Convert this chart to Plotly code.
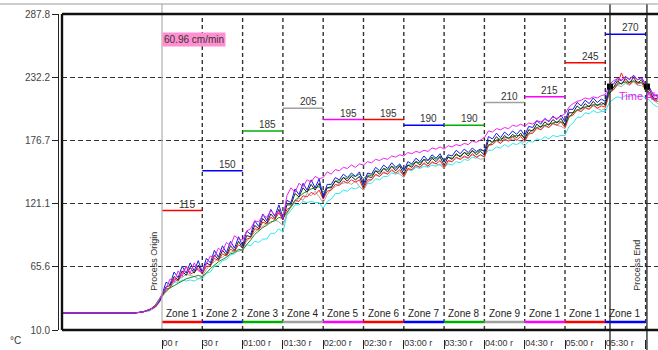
import plotly.graph_objects as go

# ---- data -------------------------------------------------------------
# sample clock in minutes from process origin
sample_min = [-74, -55, -35, -20, -14, -9, -5, -2] + list(range(0, 370, 3))

probe_magenta = [25, 25, 25, 25, 26, 28, 31, 36,
    42, 46, 55, 52, 62, 57, 66, 60, 69, 62,
    61, 68, 75, 74, 82, 79, 87, 84, 93, 90,
    89, 97, 99, 106, 105, 111, 109, 115, 111, 114,
    108, 128, 135, 131, 139, 136, 142, 140, 145, 143,
    144, 149, 147, 151, 150, 153, 152, 155, 153, 156,
    155, 158, 157, 160, 159, 161, 160, 163, 162, 164,
    163, 166, 165, 167, 166, 168, 167, 170, 169, 171,
    169, 172, 171, 173, 172, 174, 173, 176, 175, 177,
    179, 185, 184, 187, 186, 188, 187, 190, 189, 191,
    189, 192, 191, 194, 193, 195, 194, 197, 196, 198,
    200, 206, 209, 211, 212, 214, 213, 215, 214, 216,
    217, 226, 229, 231, 230, 232, 231, 233, 230, 231,
    226, 221, 217, 215]

probe_blue = [25, 25, 25, 25, 26, 28, 31, 35,
    41, 52, 50, 61, 56, 66, 60, 69, 62, 71,
    61, 73, 69, 80, 74, 84, 78, 88, 82, 92,
    84, 97, 94, 106, 101, 112, 106, 116, 110, 120,
    109, 124, 122, 134, 129, 139, 133, 142, 135, 143,
    127, 138, 138, 144, 142, 147, 144, 148, 145, 149,
    138, 148, 147, 153, 150, 155, 152, 157, 153, 156,
    150, 158, 156, 161, 158, 163, 159, 164, 161, 165,
    158, 164, 163, 168, 165, 169, 166, 170, 167, 169,
    167, 180, 178, 183, 179, 184, 181, 185, 182, 186,
    181, 189, 188, 194, 191, 196, 193, 198, 195, 199,
    193, 204, 204, 210, 207, 212, 209, 214, 210, 213,
    211, 224, 226, 231, 229, 233, 230, 234, 230, 232,
    226, 223, 216, 216]

probe_black = [25, 25, 25, 25, 26, 28, 31, 35,
    40, 48, 49, 57, 54, 62, 58, 65, 60, 67,
    60, 69, 67, 76, 72, 80, 76, 84, 80, 88,
    82, 93, 92, 102, 99, 108, 104, 112, 108, 116,
    107, 120, 120, 130, 127, 135, 131, 138, 133, 139,
    126, 135, 135, 141, 139, 144, 141, 145, 142, 145,
    136, 145, 144, 150, 147, 152, 149, 154, 150, 154,
    147, 155, 153, 158, 155, 160, 156, 161, 158, 162,
    155, 162, 160, 165, 162, 166, 163, 168, 164, 167,
    164, 177, 175, 180, 176, 181, 178, 182, 179, 183,
    178, 186, 185, 191, 188, 193, 190, 195, 192, 196,
    190, 201, 201, 207, 204, 209, 206, 211, 207, 210,
    208, 222, 223, 229, 226, 231, 227, 232, 227, 230,
    223, 221, 213, 214]

probe_red = [25, 25, 25, 25, 26, 28, 30, 35,
    39, 46, 47, 55, 53, 60, 66, 59, 61, 64,
    59, 66, 66, 73, 71, 77, 75, 81, 79, 85,
    82, 90, 91, 99, 98, 105, 103, 109, 107, 113,
    107, 116, 118, 124, 123, 128, 127, 131, 129, 133,
    125, 132, 133, 138, 137, 141, 139, 142, 140, 142,
    134, 142, 142, 147, 145, 149, 147, 151, 148, 151,
    145, 152, 151, 155, 153, 157, 154, 158, 156, 159,
    153, 159, 158, 162, 160, 163, 161, 165, 162, 164,
    162, 173, 173, 177, 174, 178, 176, 180, 177, 180,
    176, 183, 183, 188, 186, 190, 188, 192, 190, 193,
    188, 198, 199, 204, 202, 206, 204, 208, 205, 207,
    206, 219, 221, 226, 236, 228, 226, 229, 226, 228,
    221, 218, 212, 211]

probe_green = [25, 25, 25, 25, 26, 28, 32, 37,
    41, 44, 47, 49, 51, 53, 55, 56, 57, 58,
    57, 60, 64, 67, 70, 72, 74, 77, 78, 81,
    80, 85, 89, 94, 97, 100, 102, 105, 106, 109,
    108, 113, 119, 124, 127, 130, 132, 134, 135, 136,
    131, 135, 136, 141, 141, 144, 143, 146, 145, 147,
    143, 146, 146, 150, 149, 152, 151, 154, 152, 155,
    151, 155, 155, 158, 157, 160, 159, 162, 160, 163,
    159, 162, 161, 164, 163, 166, 165, 167, 166, 168,
    168, 172, 175, 177, 178, 179, 179, 180, 181, 181,
    180, 183, 186, 188, 189, 190, 191, 192, 193, 193,
    191, 197, 201, 203, 205, 206, 207, 208, 208, 208,
    210, 218, 223, 226, 227, 228, 228, 229, 228, 227,
    224, 218, 214, 211]

probe_gray = [25, 25, 25, 25, 26, 27, 30, 34,
    39, 44, 48, 52, 55, 56, 59, 58, 57, 55,
    57, 63, 68, 70, 73, 74, 77, 78, 80, 79,
    81, 88, 92, 96, 99, 101, 104, 104, 107, 105,
    102, 112, 118, 122, 126, 124, 130, 128, 132, 127,
    122, 129, 134, 136, 138, 139, 140, 138, 141, 136,
    133, 140, 142, 146, 145, 148, 147, 150, 148, 147,
    144, 151, 151, 154, 153, 156, 154, 157, 156, 155,
    152, 158, 158, 161, 160, 162, 161, 164, 162, 160,
    161, 172, 173, 176, 174, 177, 176, 178, 177, 176,
    175, 182, 183, 187, 186, 189, 188, 191, 190, 189,
    187, 197, 199, 203, 202, 205, 204, 207, 205, 203,
    205, 218, 221, 225, 224, 227, 225, 228, 225, 225,
    222, 216, 212, 209]

probe_cyan = [25, 25, 25, 25, 26, 27, 30, 34,
    39, 45, 47, 52, 52, 54, 53, 54, 53, 55,
    55, 60, 61, 66, 67, 71, 72, 76, 77, 80,
    81, 85, 84, 88, 87, 90, 90, 95, 95, 99,
    96, 111, 115, 120, 120, 123, 122, 123, 122, 122,
    117, 123, 125, 130, 130, 133, 132, 135, 134, 136,
    133, 139, 139, 143, 142, 145, 145, 148, 147, 149,
    147, 151, 150, 153, 152, 154, 153, 155, 154, 156,
    153, 156, 155, 158, 157, 160, 159, 162, 161, 164,
    163, 168, 168, 171, 170, 173, 171, 174, 173, 175,
    172, 176, 175, 178, 177, 180, 178, 181, 180, 181,
    181, 189, 192, 197, 197, 201, 200, 203, 201, 202,
    202, 210, 213, 215, 214, 216, 215, 217, 215, 216,
    214, 212, 208, 206]

# oven zones: edges in minutes, names, set points (deg C)
zone_edges = [0, 30, 60, 90, 120, 150, 180, 210, 240, 270, 300, 330, 360]
zone_names = ["Zone 1", "Zone 2", "Zone 3", "Zone 4", "Zone 5", "Zone 6",
              "Zone 7", "Zone 8", "Zone 9", "Zone 1", "Zone 1", "Zone 1"]
zone_setpoints = [115, 150, 185, 205, 195, 195, 190, 190, 210, 215, 245, 270]

# time axis
tick_min = [0, 30, 60, 90, 120, 150, 180, 210, 240, 270, 300, 330, 360]
tick_text = ["00 r", "30 r", "01:00 r", "01:30 r", "02:00 r", "02:30 r", "03:00 r",
             "03:30 r", "04:00 r", "04:30 r", "05:00 r", "05:30 r", "06:00"]

# temperature axis
temp_ticks = [10.0, 65.6, 121.1, 176.7, 232.2, 287.8]
temp_text = ["10.0", "65.6", "121.1", "176.7", "232.2", "287.8"]

# time-above-limit markers
time_above_min = [333.5, 361]
time_above_temp = [224, 224]

conveyor_speed = "60.96 cm/min"

# ---- styling ----------------------------------------------------------
zone_colors = ["#ff0000", "#0000ff", "#00b000", "#a0a0a0", "#ff00ff", "#ff0000",
               "#0000ff", "#00b000", "#a0a0a0", "#ff00ff", "#ff0000", "#0000ff"]
FONT = "Liberation Sans, Arial, sans-serif"
W, H = 658, 350
ML, MT = 58, 14
plot_w, plot_h = W - ML, H - MT
ZONE_BAR_T = 17

fig = go.Figure()

probes = [
    (probe_cyan, "#30e8f0"),
    (probe_gray, "#a8a8a8"),
    (probe_red, "#ff2020"),
    (probe_green, "#12901a"),
    (probe_black, "#202020"),
    (probe_blue, "#1a1ae0"),
    (probe_magenta, "#f020f0"),
]
for vals, col in probes:
    fig.add_trace(go.Scatter(x=sample_min, y=vals, mode="lines",
                             line=dict(color=col, width=1.0),
                             hoverinfo="skip"))

# zone set-point segments and zone bars
for i, name in enumerate(zone_names):
    x0, x1 = zone_edges[i], zone_edges[i + 1]
    col = zone_colors[i]
    fig.add_trace(go.Scatter(x=[x0, x1], y=[zone_setpoints[i]] * 2, mode="lines",
                             line=dict(color=col, width=1.4), hoverinfo="skip"))
    fig.add_trace(go.Scatter(x=[x0, x1], y=[ZONE_BAR_T] * 2, mode="lines",
                             line=dict(color=col, width=2.6), hoverinfo="skip"))
    mid = (x0 + x1) / 2
    fig.add_annotation(x=mid, y=zone_setpoints[i], text=str(zone_setpoints[i]),
                       showarrow=False, yanchor="bottom", xshift=5, yshift=-1,
                       font=dict(family=FONT, size=10, color="#333333"))
    fig.add_annotation(x=mid, y=ZONE_BAR_T, text=name, showarrow=False,
                       yanchor="bottom", yshift=1,
                       font=dict(family=FONT, size=10, color="#222222"))

fig.add_trace(go.Scatter(x=time_above_min, y=time_above_temp, mode="markers",
                         marker=dict(symbol="square", size=6, color="#000000"),
                         hoverinfo="skip"))

shapes = []
# dashed vertical grid
for t in tick_min[1:]:
    shapes.append(dict(type="line", xref="x", yref="y domain", x0=t, x1=t, y0=0, y1=1,
                       line=dict(color="#333333", width=1.4, dash="4px,3px"), layer="below"))
# origin line
shapes.append(dict(type="line", xref="x", yref="paper", x0=0, x1=0,
                   y0=(H - 330) / plot_h, y1=1 + 10 / plot_h,
                   line=dict(color="#b0b0b0", width=1.2)))
# time-above limit lines
for t in time_above_min:
    shapes.append(dict(type="line", xref="x", yref="paper", x0=t, x1=t,
                       y0=0, y1=1 + 10 / plot_h, line=dict(color="#222222", width=1.3)))
# top page rule
shapes.append(dict(type="line", xref="paper", yref="paper", x0=-ML / plot_w, x1=1,
                   y0=1 + 10 / plot_h, y1=1 + 10 / plot_h,
                   line=dict(color="#999999", width=1)))
# chart frame
frame = dict(color="#111111", width=2.4)
shapes.append(dict(type="line", xref="x domain", yref="y domain", x0=0, x1=0, y0=0, y1=1, line=frame))
shapes.append(dict(type="line", xref="x domain", yref="y domain", x0=0, x1=1, y0=1, y1=1, line=frame))
shapes.append(dict(type="line", xref="x domain", yref="y domain", x0=0, x1=1, y0=0, y1=0, line=frame))

fig.add_annotation(x=0, y=265, xanchor="left", text=conveyor_speed, showarrow=False,
                   bgcolor="#ff8fd0", borderpad=1,
                   font=dict(family=FONT, size=10, color="#333333"))
fig.add_annotation(x=0, y=70, xanchor="right", yanchor="middle", xshift=-1,
                   text="Process Origin", textangle=-90, showarrow=False,
                   font=dict(family=FONT, size=9, color="#333333"))
fig.add_annotation(x=360, y=67, xanchor="right", yanchor="middle", xshift=-1,
                   text="Process End", textangle=-90, showarrow=False,
                   font=dict(family=FONT, size=9, color="#333333"))
fig.add_annotation(x=338.5, y=216, xanchor="left", text="Time Above", showarrow=False,
                   font=dict(family=FONT, size=11, color="#f020f0"))
fig.add_annotation(xref="paper", yref="paper", x=-42 / plot_w, y=10 / plot_h,
                   xanchor="center", yanchor="middle",
                   text="°C", showarrow=False,
                   font=dict(family=FONT, size=10, color="#333333"))

px_per_min = 40.3 / 30
t_left = (62 - 162) / px_per_min
t_right = (W - 162) / px_per_min

fig.update_layout(
    width=W, height=H,
    margin=dict(l=ML, r=0, t=MT, b=0, autoexpand=False),
    paper_bgcolor="white", plot_bgcolor="white",
    showlegend=False,
    shapes=shapes,
    xaxis=dict(domain=[4 / plot_w, 1], range=[t_left, t_right], automargin=False,
               anchor="free", position=(H - 339) / plot_h,
               showgrid=False, zeroline=False, showline=False,
               tickmode="array", tickvals=tick_min, ticktext=tick_text,
               ticks="outside", ticklen=9, tickcolor="#222222", tickwidth=1,
               ticklabelposition="outside right", ticklabelstandoff=-5,
               tickfont=dict(family=FONT, size=9, color="#333333")),
    yaxis=dict(domain=[20 / plot_h, 1], range=[10, 287.8], automargin=False,
               anchor="free", position=0,
               showgrid=True, gridcolor="#333333", gridwidth=1.4, griddash="5px,3px",
               zeroline=False, showline=True, linecolor="#222222", linewidth=1,
               tickmode="array", tickvals=temp_ticks, ticktext=temp_text,
               ticks="outside", ticklen=6, tickcolor="#222222",
               tickfont=dict(family=FONT, size=10, color="#444444")),
)

fig.write_html("out.html")
